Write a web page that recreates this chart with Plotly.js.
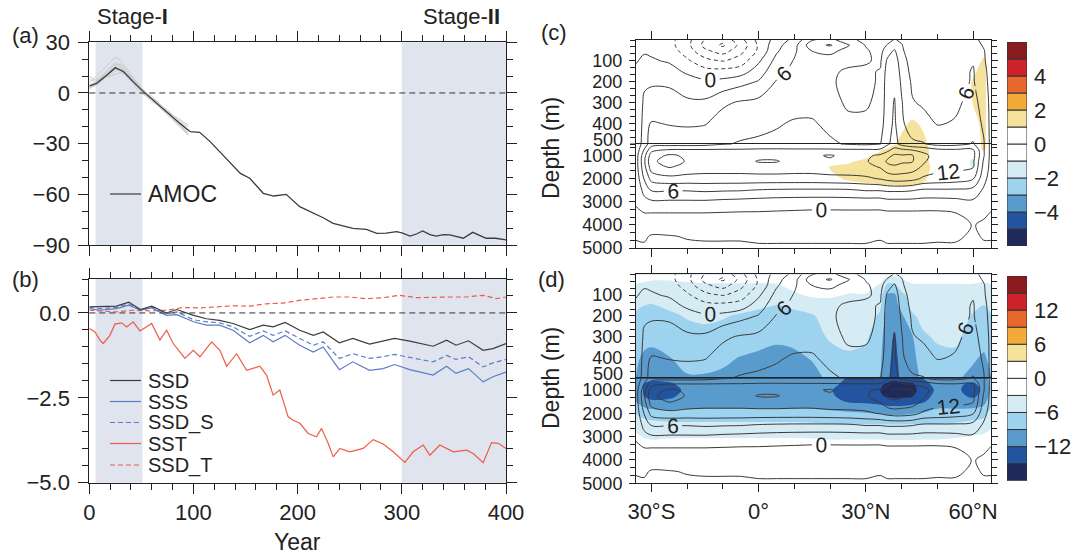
<!DOCTYPE html>
<html><head><meta charset="utf-8">
<script src="https://cdn.plot.ly/plotly-3.0.1.min.js"></script>
<style>html,body{margin:0;padding:0;background:#fff;}#chart{width:1083px;height:554px;}</style>
</head><body><div id="chart"></div>
<script>
// ---------------- (a) AMOC ----------------
const AMOC_YEAR = [0,7,17,25,33,42,52,61,74,87,97,106,116,125,135,145,154,167,177,189,202,215,225,234,245,253,266,276,285,295,300,308,314,320,327,333,340,346,353,359,368,375,381,390,395,400];
const AMOC = [4.1,5.7,10.7,15,12.6,6.7,0.8,-4.1,-11,-18,-22.9,-23.3,-28.8,-34.7,-41.6,-47.6,-50.5,-59.4,-61,-60,-67.3,-71.2,-74,-77.2,-79,-80.1,-80.7,-83.1,-83,-82.1,-82.8,-84.7,-83.5,-81.7,-83.8,-84.7,-83.8,-84,-85,-86,-82.5,-84.5,-86,-86,-86.5,-87];
const ENS_YEAR = [0,5,10,15,20,25,30,35,40,45,50,55,60,65,70,75,80,85,90,95];
const ENS1 = [6,9,12,15,18,21,19,15,11,6,2,-1,-3,-6,-9,-12,-15,-18,-21,-24];
const ENS2 = [3,4,6,9,11,13,14,13,10,7,3,0,-3,-5,-8,-10,-13,-16,-18,-20];
const ENS3 = [8,7,8,10,13,16,17,14,9,5,1,-2,-4,-7,-10,-12,-14,-17,-20,-23];
const ENS4 = [2,5,7,9,10,11,12,10,7,4,1,-2,-5,-7,-9,-12,-15,-18,-21,-25];
const ENS5 = [5,6,9,12,15,17,15,12,9,6,2,-1,-4,-6,-9,-11,-13,-15,-17,-19];
const ENS6 = [4,6,8,11,14,18,16,12,8,3,0,-2,-4,-7,-10,-13,-16,-19,-22,-25];
const ENS7 = [10,8,9,11,12,14,13,11,9,6,3,0,-2,-5,-8,-11,-14,-17,-20,-22];

// ---------------- (b) surface density terms ----------------
const B_YEAR = [0,10,26,38,49,60,74,84,100,112.5,125,138,154,167,176.5,188,202,215,224.5,240,253,269,282,293,307.6,330,343,352,364,378,387.5,400];
const SSD   = [0.18,0.18,0.2,0.32,0.1,0.2,0,0.1,-0.07,-0.17,-0.22,-0.31,-0.49,-0.36,-0.41,-0.28,-0.51,-0.66,-0.56,-0.88,-0.75,-0.92,-0.83,-0.75,-0.83,-0.98,-0.8,-0.95,-0.82,-1.1,-1.05,-0.9];
const SSS   = [0.13,0.08,0.13,0.23,0.08,0.15,-0.07,-0.05,-0.26,-0.36,-0.36,-0.51,-0.88,-0.66,-0.85,-0.66,-0.95,-1.15,-1.0,-1.67,-1.44,-1.69,-1.64,-1.52,-1.67,-1.83,-1.57,-1.78,-1.64,-2.03,-1.88,-1.74];
const SSD_S = [0.16,0.13,0.16,0.27,0.08,0.18,-0.02,0.03,-0.2,-0.26,-0.29,-0.41,-0.69,-0.53,-0.66,-0.53,-0.75,-0.95,-0.85,-1.34,-1.2,-1.34,-1.29,-1.22,-1.31,-1.44,-1.25,-1.37,-1.29,-1.59,-1.47,-1.37];
const SST_YEAR = [0,5.4,10.2,13.4,19.8,24.6,31,35.8,42.2,48.6,55,59.8,67.8,74.2,80.6,91.8,99.8,106.2,117.4,125.4,131.8,141.4,151,163.7,170.1,176.5,182.9,190.9,195.7,202.1,210.1,218.1,222.9,229.3,234.1,240.5,250.1,262.9,272.5,282.1,291.7,302.9,310.9,320.5,326.9,336.5,349.3,362.1,368.5,378.1,386.1,392.5,400];
const SST = [-0.46,-0.56,-0.8,-0.9,-0.66,-0.33,-0.29,-0.41,-0.26,-0.53,-0.41,-0.31,-0.8,-0.51,-0.9,-1.34,-1.1,-1.29,-0.85,-1.1,-1.57,-1.2,-1.69,-1.57,-1.83,-2.42,-2.27,-3.06,-3.16,-3.25,-3.55,-3.65,-3.4,-3.84,-4.24,-3.99,-4.09,-3.99,-3.73,-3.86,-4.09,-4.4,-4.09,-3.89,-4.19,-3.89,-4.09,-4.04,-4.14,-4.41,-3.82,-3.84,-3.99];
const SSDT_YEAR = [0,10,26,42,58,74,90,106,122,138,154,170,186,202,218,234,250,266,282,298,314,330,346,362,378,391,400];
const SSD_T = [0.08,0.06,0.03,0.08,0.06,0.08,0.16,0.15,0.18,0.21,0.2,0.27,0.29,0.37,0.42,0.47,0.47,0.42,0.45,0.52,0.45,0.47,0.47,0.47,0.52,0.42,0.47];
const STAGES = [[6,51],[300,400]];

// ---------------- (c)/(d) overturning streamfunction (Sv) ----------------
const LAT = [-34.3,-32,-30,-25,-20,-15,-10,-5,0,5,10,15,20,25,30,34,36,38,40,43,46,50,55,60,63,65];
const DEPTH_TOP = [0,25,50,100,150,200,300,400,500];
const DEPTH_BOT = [500,750,1000,1250,1500,2000,2500,3000,3500,4000,4500,5000];
const PSI_TOP = [
 [-0.2,-0.5,-1,-2,-5,-9.2,-11,-7,-2,1,4,8.8,10,7,5,4,5,6.2,5.5,3.2,3.2,3.2,3.5,4,2,0.5],
 [-0.2,-0.5,-1,-2,-5,-10,-12.5,-8,-2.5,2,5,11,12.3,9.3,5.8,4.5,6.2,7.5,6.2,3.5,3.2,3.5,4,5,2.5,0.5],
 [-0.2,-0.3,-0.5,-1.5,-4.5,-8.5,-10.5,-7,-2.5,2.5,5.5,9.2,10,8,6.3,5,7.5,9.3,6.5,4,3.5,4,4.5,5.5,3.2,1],
 [-0.2,0.5,0.3,-0.3,-2.5,-5,-6.2,-4.5,-0.5,4,6.2,7.3,7.5,6.8,6.3,5.5,9.5,10.5,7.5,4.5,4,4.5,4.8,5.8,3.5,1],
 [0.5,1.5,1.5,1,-0.5,-2,-2,-1.5,1.5,5,6.8,7,6.5,5.6,5.5,6.2,10.2,11,8,5,4.5,4.8,5,6.2,4,1.5],
 [0.5,2.5,2.5,2.5,1.2,0.5,0.8,2,3.2,6.2,7.3,7.4,6.5,5,5,6.5,10.5,11.3,8.5,5.5,5,5,5.2,6.2,4.5,1.5],
 [0.5,3.5,4.5,4.2,3.5,3.5,5.5,6.3,6.8,7.5,8.2,8.3,7.5,5.3,5.5,7,10.5,12.2,9.2,6.2,5.6,5.3,5.5,6.8,5,2],
 [0.5,4,6.2,5.8,5.6,5.8,7.2,8,8.5,8.8,9.2,9.2,8.5,7,6.8,7.5,10.8,12.5,9.5,7.5,7,5.8,6.2,7.5,5.5,2],
 [0.5,4.5,7.5,7.8,7.8,8,8.8,9.2,9.3,9.5,9.6,9.6,9.3,8.8,8.5,8.8,11.5,13,11,9.5,9.2,8,8,9.2,6.2,2]
];
const PSI_BOT = [
 [0.5,4.5,7.5,7.8,7.8,8,8.8,9.2,9.3,9.5,9.6,9.6,9.3,8.8,8.5,8.8,11.5,13,11,9.5,9.2,8,8,9.2,6.2,2],
 [1,6.2,11,12.2,12.2,12.2,12.3,12.3,12.5,12.5,12.4,12.4,12.4,12.3,12.3,12.5,14,16,15.5,14.8,14,12.5,12.3,12.2,6.2,2],
 [1.5,8,13.5,15.5,14.5,13.8,13.8,13.8,14.2,14.2,14,14.5,15.3,14,14.5,15.5,17,18.5,18.3,18.2,16,13.5,13.5,13,6.2,2],
 [1.5,8.5,14.5,16,14.8,14,14,14,15.2,15.2,14,14.2,14.5,14.5,14.8,16,18.5,19,18.5,18.2,15.5,13.3,13.3,12.5,5.5,2],
 [1.5,8,13.5,15.2,14,13.5,13.5,13.5,13.8,13.8,13.5,13.5,14,13.8,14,15.2,17,17.5,17,16.5,14.5,13,12.8,12.2,5,2],
 [1,6.2,10,11,10.8,10.8,10.8,10.8,10.8,10.8,10.8,10.8,11,11.2,11.5,12.2,13,13.5,13.5,13,11.5,11,10.5,9.2,4,1.5],
 [0.5,4,6.2,6.2,6.2,6.5,6.3,6.2,5.8,5.6,5.5,5.5,5.5,5.6,6.2,6.2,6.5,6.5,6.5,6.2,5.5,5.5,5.5,5,2.5,1],
 [0.2,2,2.5,2.5,2.5,2.5,2.2,2,1.8,1.6,1.5,1.4,1.4,1.5,1.5,1.5,2,2,2,2,1.8,1.8,2,2.5,1,0.5],
 [-0.3,-0.1,-0.1,-0.1,-0.1,-0.1,-0.2,-0.3,-0.3,-0.4,-0.5,-0.6,-0.6,-0.6,-0.6,-0.6,-0.5,-0.5,-0.5,-0.5,-0.5,-0.5,-0.1,1,0.3,-0.1],
 [-0.3,-0.8,-1.2,-1,-1,-1,-1,-1,-1,-1,-1,-1.1,-1.1,-1.1,-1,-1.1,-1.2,-1.2,-1.2,-1.1,-1,-1,-0.8,0.1,-0.3,-0.3],
 [-0.1,-0.3,0.2,0.1,-0.1,-0.2,-0.2,-0.2,-0.3,-0.3,-0.3,-0.3,-0.3,-0.3,-0.3,-0.1,-0.3,-0.3,-0.3,-0.3,-0.3,-0.2,-0.2,0.2,-0.1,-0.1],
 [0.2,0.3,0.4,0.3,0.3,0.3,0.3,0.3,0.2,0.2,0.2,0.2,0.2,0.2,0.2,0.2,0.2,0.2,0.2,0.2,0.2,0.2,0.2,0.3,0.2,0.2]
];
// (c) change in Stage-I (Sv)
const DC_TOP = [
 [0,0,0,0,0,0,0,0,0,0,0,0,0,0,0,0,0,0,0,0,0,0,0,0,0,0],
 [0,0,0,0,0,0,0,0,0,0,0,0,0,0,0,0,0,0,0,0,0,0,0,0,0,0],
 [0,0,0,0,0,0,0,0,0,0,0,0,0,0,0,0,0,0,0,0,0,0,0,0,0.5,0],
 [0,0,0,0,0,0,0,0,0,0,0,0,0,0,0,0,0,0,0,0,0,0,0,0,1.3,0],
 [0,0,0,0,0,0,0,0,0,0,0,0,0,0,0,0,0,0,0,0,0,0,0,0.8,1.4,0],
 [0,0,0,0,0,0,0,0,0,0,0,0,0,0,0,0,0,0,0,0,0,0,0,1.1,1.4,0],
 [0,0,0,0,0,0,0,0,0,0,0,0,0,0,0,0,0,0,0,0,0,0,0,1.05,1.4,0],
 [0,0,0,0,0,0,0,0,0,0,0,0,0,0,0,0,0,0,0.7,1.2,0.8,0,0,0.5,1.4,0],
 [0,0,0,0,0,0,0,0,0,0,0,0,0,0,0,0,0,0.9,1.3,1.5,1.3,0.3,0,0,1.4,0]
];
const DC_BOT = [
 [0,0,0,0,0,0,0,0,0,0,0,0,0,0,0,0,0,0.9,1.3,1.5,1.3,0.3,0,0,1.4,0],
 [0,0,0,0,0,0,0,0,0,0,0,0,0,0,0,0.9,1.3,1.5,1.6,1.6,1.4,0.4,0,0,1.2,0],
 [0,0,0,0,0,0,0,0,0,0,0,0,0,0,0.7,1.3,1.5,1.6,1.6,1.6,1.4,0.4,0,-0.8,0,0],
 [0,0,0,0,0,0,0,0,0,0,0,0,0,0.8,1.3,1.5,1.6,1.6,1.6,1.6,1.4,0.4,0,-1.2,0,0],
 [0,0,0,0,0,0,0,0,0,0,0,0,1.1,1.3,1.5,1.6,1.6,1.6,1.6,1.6,1.5,0.5,0,-1.1,0,0],
 [0,0,0,0,0,0,0,0,0,0,0,0,0.6,1.2,1.3,1.4,1.4,1.4,1.4,1.3,1.2,0.4,0,0,0,0],
 [0,0,0,0,0,0,0,0,0,0,0,0,0,0,0.5,0.6,0.7,0.7,0.8,0.8,0.6,0,0,0,0,0],
 [0,0,0,0,0,0,0,0,0,0,0,0,0,0,0,0,0,0,0,0,0,0,0,0,0,0],
 [0,0,0,0,0,0,0,0,0,0,0,0,0,0,0,0,0,0,0,0,0,0,0,0,0,0],
 [0,0,0,0,0,0,0,0,0,0,0,0,0,0,0,0,0,0,0,0,0,0,0,0,0,0],
 [0,0,0,0,0,0,0,0,0,0,0,0,0,0,0,0,0,0,0,0,0,0,0,0,0,0],
 [0,0,0,0,0,0,0,0,0,0,0,0,0,0,0,0,0,0,0,0,0,0,0,0,0,0]
];
// (d) change in Stage-II (Sv)
const DD_TOP = [
 [-1,-1.5,-2,-2,-2,-1.5,-1.5,-1.5,-1.5,-1.5,-1,-1,-1,-1,-1,-1.5,-2.5,-2.5,-2,-1.5,-1,-1,-1,-1.5,-2,-1.5],
 [-2,-2.5,-2.8,-2.8,-2.5,-2,-2,-2,-2,-2,-1.5,-1.5,-1.5,-1.5,-1.5,-2,-4,-4,-3.2,-2,-1.5,-1.5,-1.5,-2,-2.5,-2],
 [-3.2,-3.5,-3.8,-3.8,-3.5,-3.4,-3.4,-3.4,-3.4,-3.2,-2,-2,-2,-2,-2,-3.2,-6.5,-6.5,-4,-3.3,-3.3,-3.3,-3.3,-3.2,-3.5,-3.2],
 [-4,-4.5,-4.8,-4.8,-4.5,-4.2,-4.2,-4.2,-4.2,-4,-3.5,-2.5,-2.5,-3.2,-3.2,-4.5,-9.3,-9.5,-7,-4.2,-4.2,-4.2,-4.2,-4.5,-5,-4],
 [-5.5,-6,-6.2,-5.5,-5,-5,-5,-5,-5.5,-6.1,-5.5,-5,-4.5,-4,-4,-5.5,-9.8,-10.2,-8,-5,-4.6,-4.6,-4.6,-5.5,-6.1,-5],
 [-6.5,-7,-7,-6.5,-5.8,-5.5,-5.8,-6.3,-6.8,-7,-6.8,-6.2,-5,-4.5,-4.5,-6.5,-10.2,-11,-9.5,-6.5,-5,-4.8,-4.8,-6.2,-7,-6.2],
 [-7.5,-8,-8.5,-7.5,-7,-6.8,-7,-7.5,-8,-8.5,-8.3,-7.5,-5.5,-5,-5.5,-8,-10.8,-12.3,-10.5,-9.2,-6.5,-5.5,-5.5,-7,-7.5,-6.5],
 [-8.5,-9.5,-9.5,-9.1,-8,-8,-8.5,-9.1,-9.5,-9.8,-9.5,-8.8,-7.5,-6.5,-7,-8.5,-11.2,-12.8,-11,-9.8,-7.5,-7,-6.5,-8.5,-9.5,-8],
 [-9.1,-10.5,-10.5,-10,-9.3,-9.3,-9.5,-10,-10.5,-10.5,-10.3,-9.8,-8.5,-8,-8,-9.1,-11.5,-13,-11.5,-10,-8.5,-8,-8.5,-10,-10.5,-9.1]
];
const DD_BOT = [
 [-9.1,-10.5,-11,-11,-10.5,-10.3,-10.5,-10.5,-10.5,-10.5,-10.5,-10.5,-11,-12.2,-12.5,-13,-13.5,-14,-13.5,-13,-12,-10.5,-10.5,-11,-10.5,-8],
 [-9.5,-12.2,-13,-12.5,-11,-10.8,-10.8,-10.8,-10.8,-10.8,-10.8,-10.8,-11.5,-12.5,-13.5,-14.5,-15.5,-16.5,-16,-15.5,-13,-11,-11.5,-12.5,-11,-8],
 [-9.5,-12.5,-13.5,-13,-11.5,-11,-11,-11,-11,-11,-11,-11,-11.8,-13,-14,-15,-16,-17,-16.5,-16,-13.5,-11.5,-11.5,-13,-11.5,-8],
 [-9.5,-12.2,-13,-12.5,-11.2,-11,-11,-11,-11,-11,-11,-11,-11.8,-12.5,-13.5,-14.5,-15.5,-16,-15.8,-15.3,-13,-11.2,-11.2,-12.5,-11,-8],
 [-9.1,-11,-11.5,-11.5,-10.8,-10.5,-10.5,-10.5,-10.5,-10.5,-10.5,-10.5,-11,-12.2,-12.5,-13,-13.5,-13.5,-13.5,-13,-12.3,-10.5,-10.5,-11,-10,-7],
 [-6.2,-7,-7.5,-8,-8,-8,-8,-8,-8,-8,-8,-8,-8.3,-8.5,-8.8,-9.2,-9.5,-9.5,-9.5,-9.2,-8.8,-8,-8,-7.5,-7,-5],
 [-4,-4.8,-5,-5.3,-5.3,-5.3,-5.3,-5.3,-5.3,-5.3,-5.3,-5.5,-5.8,-5.8,-5.8,-5.8,-5.8,-5.8,-5.8,-5.8,-5.8,-5.8,-5.5,-5,-4.5,-3.5],
 [-2.5,-3.2,-3.5,-3.3,-3.2,-3.2,-3.2,-3.2,-3.2,-3.2,-3.2,-3.3,-3.5,-3.5,-3.5,-3.5,-3.6,-3.6,-3.6,-3.6,-3.5,-3.5,-3.2,-2.8,-2.5,-2],
 [-1.5,-1.5,-1.5,-1.5,-1.5,-1.5,-1.5,-1.5,-1.5,-1.5,-1.5,-1.5,-1.5,-1.5,-1.5,-1.5,-1.5,-1.5,-1.5,-1.5,-1.5,-1.5,-1.5,-1.5,-1.5,-1.5],
 [-1,-1,-1,-1,-1,-1,-1,-1,-1,-1,-1,-1,-1,-1,-1,-1,-1,-1,-1,-1,-1,-1,-1,-1,-1,-1],
 [-0.5,-0.5,-0.5,-0.5,-0.5,-0.5,-0.5,-0.5,-0.5,-0.5,-0.5,-0.5,-0.5,-0.5,-0.5,-0.5,-0.5,-0.5,-0.5,-0.5,-0.5,-0.5,-0.5,-0.5,-0.5,-0.5],
 [-0.3,-0.3,-0.3,-0.3,-0.3,-0.3,-0.3,-0.3,-0.3,-0.3,-0.3,-0.3,-0.3,-0.3,-0.3,-0.3,-0.3,-0.3,-0.3,-0.3,-0.3,-0.3,-0.3,-0.3,-0.3,-0.3]
];
const LAT_TICKS = [-30,0,30,60];
const LAT_TICKTEXT = ['30°S','0°','30°N','60°N'];
const DEPTH_TICKS_TOP = [100,200,300,400];
const DEPTH_LABEL_500 = '500';
const DEPTH_TICKS_BOT = [1000,2000,3000,4000,5000];
const CB_C_TEXT = ['−4','−2','0','2','4'];
const CB_D_TEXT = ['−12','−6','0','6','12'];

// ---------------- styling ----------------
const F = 'Liberation Sans, Arial, Helvetica, sans-serif';
const INK = '#222';
const LC = '#3a3a3a';
const COLORS = ['#1f2a5b','#22549f','#5a9bcd','#9dd3ef','#d5ecf5','#ffffff','#ffffff','#f5e29c','#f2ab3b','#e8672c','#cc2229','#8a1c20'];
const CSCALE = COLORS.map((c,i)=>[i/11,c]);
const W = 1083, H = 554;
const px = x => x / W, py = y => 1 - y / H;
const TF = {family:F, size:22, color:INK};
const DF = {family:F, size:18, color:INK};

const traces = [];
[ENS1,ENS2,ENS3,ENS4,ENS5,ENS6,ENS7].forEach(e => traces.push({type:'scatter', mode:'lines', x:ENS_YEAR, y:e, xaxis:'x', yaxis:'y', line:{color:'#c8c8c8', width:1, shape:'spline', smoothing:0.6}, hoverinfo:'skip'}));
traces.push({type:'scatter', mode:'lines', name:'AMOC', x:AMOC_YEAR, y:AMOC, xaxis:'x', yaxis:'y', line:{color:'#3c3c3c', width:1.3}});
traces.push({type:'scatter', mode:'lines', name:'SSD_T', x:SSDT_YEAR, y:SSD_T, xaxis:'x2', yaxis:'y2', line:{color:'#ef5a4a', width:1.2, dash:'5px,3px'}});
traces.push({type:'scatter', mode:'lines', name:'SST', x:SST_YEAR, y:SST, xaxis:'x2', yaxis:'y2', line:{color:'#ef5a4a', width:1.2}});
traces.push({type:'scatter', mode:'lines', name:'SSD_S', x:B_YEAR, y:SSD_S, xaxis:'x2', yaxis:'y2', line:{color:'#5b7cc6', width:1.2, dash:'5px,3px'}});
traces.push({type:'scatter', mode:'lines', name:'SSS', x:B_YEAR, y:SSS, xaxis:'x2', yaxis:'y2', line:{color:'#5b7cc6', width:1.2}});
traces.push({type:'scatter', mode:'lines', name:'SSD', x:B_YEAR, y:SSD, xaxis:'x2', yaxis:'y2', line:{color:'#3c3c3c', width:1.2}});

function ctrSet(xa, ya, yv, psi, shade, s0, ss) {
  const base = {type:'contour', x:LAT, y:yv, xaxis:xa, yaxis:ya, showscale:false, hoverinfo:'skip', autocontour:false};
  return [
    Object.assign({}, base, {z:shade, colorscale:CSCALE, contours:{coloring:'fill', start:s0, end:-s0, size:ss, showlines:false}, line:{width:0, smoothing:1}}),
    Object.assign({}, base, {z:psi, contours:{coloring:'none', start:-15, end:-3, size:3}, line:{color:LC, width:1, dash:'4px,3px', smoothing:1}}),
    Object.assign({}, base, {z:psi, contours:{coloring:'none', start:3, end:21, size:6}, line:{color:LC, width:1, smoothing:1}}),
    Object.assign({}, base, {z:psi, contours:{coloring:'none', start:0, end:18, size:6, showlabels:true, labelfont:{family:F, size:21, color:INK}}, line:{color:LC, width:1, smoothing:1}})
  ];
}
traces.push(...ctrSet('x3','y3',DEPTH_TOP,PSI_TOP,DC_TOP,-5,1));
traces.push(...ctrSet('x4','y4',DEPTH_BOT,PSI_BOT,DC_BOT,-5,1));
traces.push(...ctrSet('x5','y5',DEPTH_TOP,PSI_TOP,DD_TOP,-15,3));
traces.push(...ctrSet('x6','y6',DEPTH_BOT,PSI_BOT,DD_BOT,-15,3));

const CB_IDX = COLORS.map((c,i)=>i);
['x7','x8'].forEach((xa,k) => traces.push({type:'bar', x:CB_IDX.map(()=>0), y:CB_IDX.map(()=>1), base:CB_IDX, width:1,
  xaxis:xa, yaxis:k?'y8':'y7', marker:{color:COLORS, line:{color:'#333', width:1}}, hoverinfo:'skip'}));

// ---------------- axes ----------------
const common = {showgrid:false, zeroline:false, showline:true, linecolor:INK, linewidth:1, tickcolor:INK, tickfont:TF, ticks:'outside'};
function yearAxis(extra){ return Object.assign({}, common, {range:[0,400], tickmode:'linear', tick0:0, dtick:100, ticklen:10, mirror:'allticks',
  minor:{tickmode:'linear', tick0:0, dtick:20, ticks:'outside', ticklen:6, tickcolor:INK, showgrid:false}}, extra); }
function latAxis(extra){ return Object.assign({}, common, {range:[-34.3,65], tickmode:'array', tickvals:LAT_TICKS, ticktext:LAT_TICKTEXT, ticklen:8, mirror:true,
  minor:{tickmode:'linear', tick0:0, dtick:10, ticks:'outside', ticklen:5, tickcolor:INK, showgrid:false}}, extra); }
function depAxis(extra, mdt){ return Object.assign({}, common, {tickmode:'array', ticklen:6, mirror:'allticks', ticklabelstandoff:3, tickfont:DF,
  minor:{tickmode:'linear', tick0:0, dtick:mdt, ticks:'outside', ticklen:5, tickcolor:INK, showgrid:false}}, extra); }
const CX = [px(636), px(991)];

const layout = {
  width:W, height:H, margin:{l:0,r:0,t:0,b:0}, paper_bgcolor:'#fff', plot_bgcolor:'#fff', showlegend:false, font:{family:F, color:INK},
  xaxis: yearAxis({domain:[px(89.3),px(506)], anchor:'y', showticklabels:false}),
  yaxis: Object.assign({}, common, {domain:[py(245),py(42.3)], anchor:'x', range:[-90,30], tickmode:'array', tickvals:[-90,-60,-30,0,30], ticktext:['−90','−60','−30','0','30'], ticklen:10, mirror:'allticks', ticklabelstandoff:4,
    minor:{tickmode:'linear', tick0:0, dtick:10, ticks:'outside', ticklen:6, tickcolor:INK, showgrid:false}}),
  xaxis2: yearAxis({domain:[px(89.3),px(506)], anchor:'y2', showticklabels:true}),
  yaxis2: Object.assign({}, common, {domain:[py(482.7),py(279)], anchor:'x2', range:[-5,1], tickmode:'array', tickvals:[-5,-2.5,0], ticktext:['−5.0','−2.5','0.0'], ticklen:10, mirror:'allticks', ticklabelstandoff:4,
    minor:{tickmode:'linear', tick0:0, dtick:0.5, ticks:'outside', ticklen:6, tickcolor:INK, showgrid:false}}),
  xaxis3: latAxis({domain:CX, anchor:'y3', side:'top', showticklabels:false}),
  yaxis3: depAxis({domain:[py(144),py(40)], anchor:'x3', range:[500,0], tickvals:DEPTH_TICKS_TOP}, 100/3),
  xaxis4: latAxis({domain:CX, anchor:'y4', side:'bottom', showticklabels:false}),
  yaxis4: depAxis({domain:[py(248),py(144)], anchor:'x4', range:[5000,500], tickvals:DEPTH_TICKS_BOT}, 1000/3),
  xaxis5: latAxis({domain:CX, anchor:'y5', side:'top', showticklabels:false}),
  yaxis5: depAxis({domain:[py(378.4),py(274.3)], anchor:'x5', range:[500,0], tickvals:DEPTH_TICKS_TOP}, 100/3),
  xaxis6: latAxis({domain:CX, anchor:'y6', side:'bottom', showticklabels:true}),
  yaxis6: depAxis({domain:[py(483.3),py(378.4)], anchor:'x6', range:[5000,500], tickvals:DEPTH_TICKS_BOT}, 1000/3),
  xaxis7: {domain:[px(1007),px(1027)], anchor:'y7', range:[-0.5,0.5], visible:false, fixedrange:true},
  yaxis7: {domain:[py(246),py(42)], anchor:'x7', range:[0,12], side:'right', tickmode:'array', tickvals:[2,4,6,8,10], ticktext:CB_C_TEXT, ticks:'', showgrid:false, zeroline:false, showline:false, tickfont:TF, ticklabelstandoff:6},
  xaxis8: {domain:[px(1007),px(1027)], anchor:'y8', range:[-0.5,0.5], visible:false, fixedrange:true},
  yaxis8: {domain:[py(480.7),py(276)], anchor:'x8', range:[0,12], side:'right', tickmode:'array', tickvals:[2,4,6,8,10], ticktext:CB_D_TEXT, ticks:'', showgrid:false, zeroline:false, showline:false, tickfont:TF, ticklabelstandoff:6},
  shapes: [], annotations: []
};

STAGES.forEach(s => {
  ['x','x2'].forEach((xa,k) => layout.shapes.push({type:'rect', layer:'below', xref:xa, yref:(k?'y2':'y')+' domain', x0:s[0], x1:s[1], y0:0, y1:1, fillcolor:'#dfe4ee', line:{width:0}}));
});
layout.shapes.push({type:'line', xref:'x domain', yref:'y', x0:0, x1:1, y0:0, y1:0, line:{color:'#333', width:1, dash:'6px,4px'}});
layout.shapes.push({type:'line', xref:'x2 domain', yref:'y2', x0:0, x1:1, y0:0, y1:0, line:{color:'#333', width:1, dash:'6px,4px'}});
// tick mark at 500 m (its label sits just above so it clears the 1000 m label)
['y3','y5'].forEach(ya => layout.shapes.push({type:'line', xref:'x'+ya.slice(1)+' domain', yref:ya, x0:0, x1:-6/355, y0:500, y1:500, line:{color:INK, width:1}}));

// legends
const LEG = [
  {t:'AMOC', y:194, c:'#3c3c3c', d:'solid'},
  {t:'SSD', y:380.5, c:'#3c3c3c', d:'solid'},
  {t:'SSS', y:401.5, c:'#5b7cc6', d:'solid'},
  {t:'SSD_S', y:422.5, c:'#5b7cc6', d:'5px,3px'},
  {t:'SST', y:443.5, c:'#ef5a4a', d:'solid'},
  {t:'SSD_T', y:465, c:'#ef5a4a', d:'5px,3px'}
];
LEG.forEach((l,i) => {
  layout.shapes.push({type:'line', xref:'paper', yref:'paper', x0:px(110), x1:px(141), y0:py(l.y), y1:py(l.y), line:{color:l.c, width:1.2, dash:l.d}});
  layout.annotations.push({xref:'paper', yref:'paper', x:px(146), y:py(l.y), xanchor:'left', yanchor:'middle', text:l.t, showarrow:false, font:{family:F, size:i?20:23, color:INK}});
});
const ann = (x,y,t,xa,extra) => layout.annotations.push(Object.assign({xref:'paper', yref:'paper', x:px(x), y:py(y), xanchor:xa, yanchor:'middle', text:t, showarrow:false, font:{family:F, size:22, color:INK}}, extra||{}));
ann(10,35,'(a)','left');
ann(10,279,'(b)','left');
ann(539,33,'(c)','left');
ann(536,279,'(d)','left');
ann(95,17,'Stage-<b>I</b>','left');
ann(502,17,'Stage-<b>II</b>','right');
ann(297,542,'Year','center',{font:{family:F, size:23, color:INK}});
ann(551,148,'Depth (m)','center',{textangle:-90, font:{family:F, size:23, color:INK}});
ann(551,378,'Depth (m)','center',{textangle:-90, font:{family:F, size:23, color:INK}});
ann(625,139.5,DEPTH_LABEL_500,'right',{font:DF});
ann(625,373.8,DEPTH_LABEL_500,'right',{font:DF});

Plotly.newPlot('chart', traces, layout, {staticPlot:true, displayModeBar:false});
</script>
</body></html>
